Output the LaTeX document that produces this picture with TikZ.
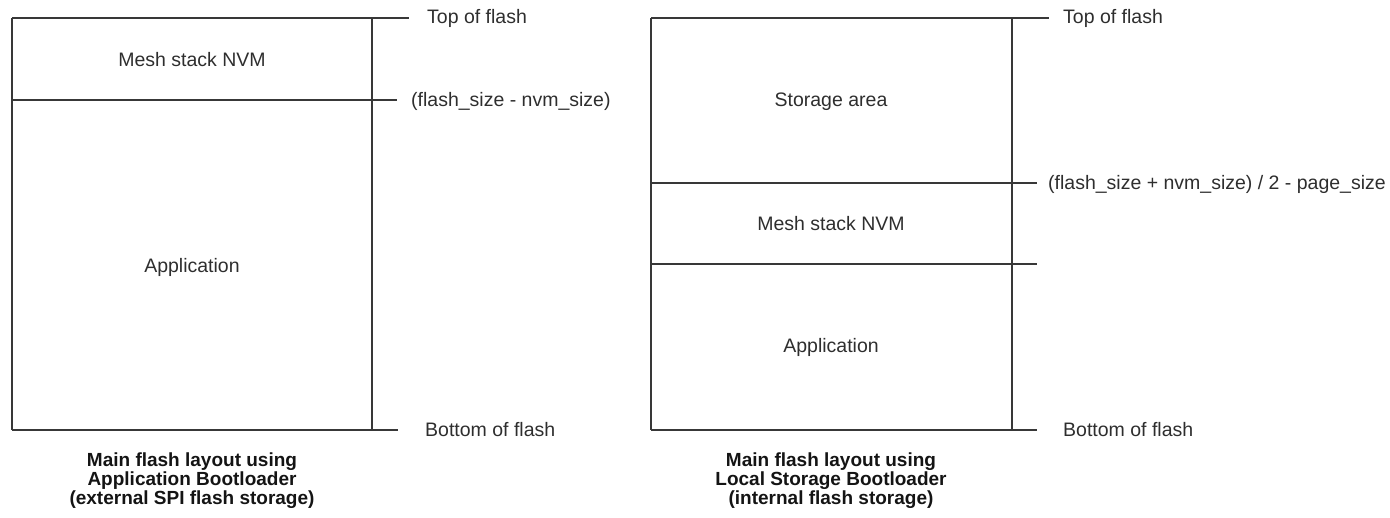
\documentclass[tikz,border=0pt]{standalone}
\usepackage{fontspec}
\setmainfont{Liberation Sans}
\begin{document}
\begin{tikzpicture}[x=1pt,y=-1pt,
  bar/.style={line width=2.6pt,color=black!78},
  side/.style={line width=2.2pt,color=black!78},
  lbl/.style={font=\fontsize{19.5}{22}\selectfont,color=black!82,inner sep=0pt},
  captext/.style={font=\fontsize{19}{19}\selectfont\bfseries,align=center,inner sep=0pt,color=black!92}]
\useasboundingbox (0,0) rectangle (1390,518);
% left layout
\coordinate (L1) at (12,18);
\coordinate (L2) at (372,18);
\coordinate (L3) at (372,430);
\coordinate (L4) at (12,430);
\draw[side] (L1) -- (L4);
\draw[side] (L2) -- (L3);
\draw[bar] (L1) -- (409,18) coordinate (LT);
\draw[bar] (12,100) -- (397,100) coordinate (LM);
\draw[bar] (L4) -- (398,430) coordinate (LB);
\node[lbl] (lnvm) at (192,60) {Mesh stack NVM};
\node[lbl] (lapp) at (192,267) {Application};
\node[lbl,anchor=west] (ltop) at (427,18) {Top of flash};
\node[lbl,anchor=west] (lmid) at (411,101) {(flash\_size - nvm\_size)};
\node[lbl,anchor=west] (lbot) at (425,430) {Bottom of flash};
\node[captext] (lcap) at (192,481) {Main flash layout using\\Application Bootloader\\(external SPI flash storage)};
% right layout
\coordinate (R1) at (651,18);
\coordinate (R2) at (1012,18);
\coordinate (R3) at (1012,430);
\coordinate (R4) at (651,430);
\draw[side] (R1) -- (R4);
\draw[side] (R2) -- (R3);
\draw[bar] (R1) -- (1049,18) coordinate (RT);
\draw[bar] (651,183) -- (1037,183) coordinate (RM1);
\draw[bar] (651,264) -- (1037,264) coordinate (RM2);
\draw[bar] (R4) -- (1037,430) coordinate (RB);
\node[lbl] (rsto) at (831,102) {Storage area};
\node[lbl] (rnvm) at (831,224) {Mesh stack NVM};
\node[lbl] (rapp) at (831,347) {Application};
\node[lbl,anchor=west] (rtop) at (1063,18) {Top of flash};
\node[lbl,anchor=west] (rmid) at (1048,184) {(flash\_size + nvm\_size) / 2 - page\_size};
\node[lbl,anchor=west] (rbot) at (1063,430) {Bottom of flash};
\node[captext] (rcap) at (831,481) {Main flash layout using\\Local Storage Bootloader\\(internal flash storage)};
\end{tikzpicture}
\end{document}
